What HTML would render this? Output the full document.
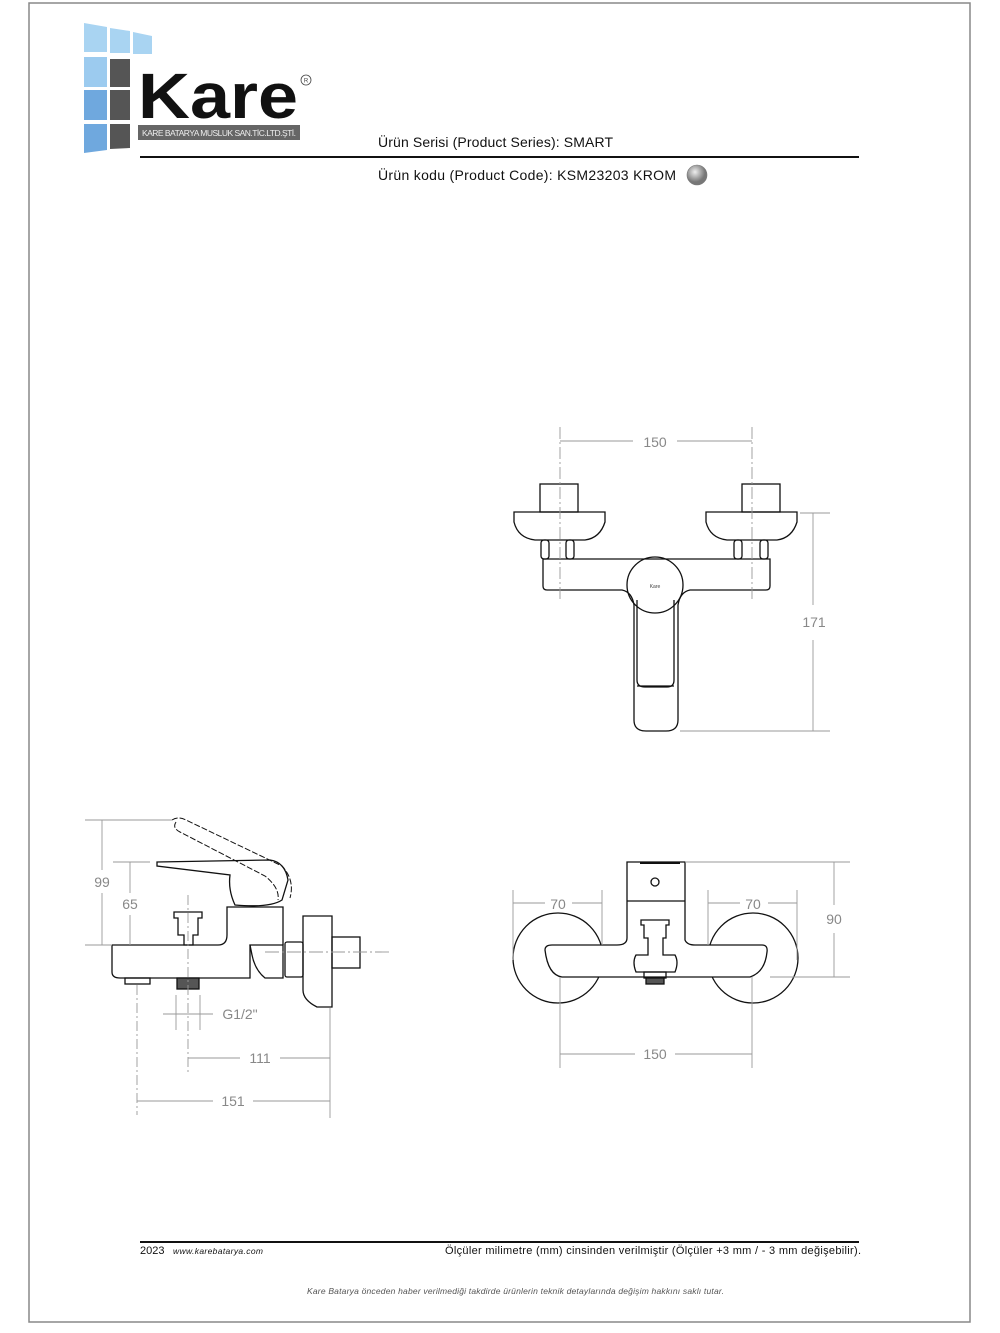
<!DOCTYPE html>
<html><head><meta charset="utf-8"><style>
html,body{margin:0;padding:0;background:#fff;}
svg{display:block;}
text{font-family:"Liberation Sans",sans-serif;}
</style></head><body>
<svg width="1000" height="1333" viewBox="0 0 1000 1333" xmlns="http://www.w3.org/2000/svg">
<rect x="29" y="3" width="941" height="1319" fill="none" stroke="#888" stroke-width="1.5"/>
<!-- logo -->
<g>
<polygon points="84,23 107,27 107,52 84,52" fill="#a9d4f2"/>
<polygon points="110,28 130,31 130,53 110,53" fill="#a9d4f2"/>
<polygon points="133,32 152,36 152,54 133,54" fill="#a9d4f2"/>
<rect x="84" y="57" width="23" height="30" fill="#9ccbef"/>
<rect x="110" y="59" width="20" height="28" fill="#555"/>
<rect x="84" y="90" width="23" height="30" fill="#6fa8de"/>
<rect x="110" y="90" width="20" height="30" fill="#555"/>
<polygon points="84,124 107,124 107,150 84,153" fill="#6fa8de"/>
<polygon points="110,124 130,124 130,148 110,149" fill="#555"/>
<text x="138" y="118" font-size="64" font-weight="bold" fill="#111" textLength="160" lengthAdjust="spacingAndGlyphs">Kare</text>
<circle cx="306" cy="80" r="5" fill="none" stroke="#444" stroke-width="0.8"/>
<text x="306" y="82.5" font-size="6" text-anchor="middle" fill="#444">R</text>
<rect x="138" y="125" width="162" height="15" fill="#666"/>
<text x="142" y="136" font-size="8.5" fill="#eee" textLength="154">KARE BATARYA MUSLUK SAN.TİC.LTD.ŞTİ.</text>
</g>
<text x="378" y="147" font-size="14" fill="#111" textLength="235">Ürün Serisi (Product Series): SMART</text>
<line x1="140" y1="157" x2="859" y2="157" stroke="#111" stroke-width="2"/>
<text x="378" y="180" font-size="14" fill="#111" textLength="298">Ürün kodu (Product Code): KSM23203  KROM</text>
<defs><radialGradient id="g" cx="40%" cy="35%"><stop offset="0" stop-color="#eee"/><stop offset="1" stop-color="#777"/></radialGradient></defs>
<circle cx="697" cy="175" r="10" fill="url(#g)" stroke="#777" stroke-width="0.6"/>

<g fill="none" stroke="#111" stroke-width="1.3">
<!-- front view top -->
<rect x="540" y="484" width="38" height="28"/>
<rect x="742" y="484" width="38" height="28"/>
<path d="M514,512 H605 V522 Q600,538 585,540 H535 Q518,538 514,522 Z"/>
<path d="M706,512 H797 V522 Q792,538 777,540 H727 Q710,538 706,522 Z"/>
<rect x="541" y="540" width="8" height="19" rx="3"/><rect x="566" y="540" width="8" height="19" rx="3"/>
<rect x="734" y="540" width="8" height="19" rx="3"/><rect x="760" y="540" width="8" height="19" rx="3"/>
<path d="M543,559 H770 V586 Q770,590 766,590 H690 Q680,592 678,605 V720 Q678,731 666,731 H646 Q634,731 634,720 V605 Q632,592 622,590 H547 Q543,590 543,586 Z"/>
<circle cx="655" cy="585" r="28"/>
<path d="M637,600 V680 Q637,687 645,687 H667 Q674,687 674,680 V600"/>
<line x1="637" y1="686" x2="674" y2="686"/>
<!-- side view -->
<path d="M112,945 H218 Q227,945 227,935 V907 H283 V945"/>
<path d="M112,945 V972 Q112,978 120,978 H250 V945"/>
<path d="M157,862 L270,860 Q285,862 288,880 L282,900 Q270,908 235,905 Q228,890 230,875 L157,866 Z"/>
<path d="M176,822 Q172,828 180,832 L265,876 Q280,888 278,900 M172,820 Q178,816 186,820 L282,866 Q295,880 290,898" stroke-width="1" stroke-dasharray="6,2"/>
<path d="M250,945 H283 V978 H265 Q255,970 252,955 Z"/>
<rect x="285" y="942" width="18" height="35" rx="2"/>
<path d="M303,916 H332 V1007 H317 Q303,1000 303,990 Z"/>
<rect x="332" y="937" width="28" height="31"/>
<rect x="125" y="978" width="25" height="6"/>
<rect x="177" y="978" width="22" height="11" fill="#555"/>
<path d="M174,912 H202 V918 H198 V935 H193 V945 H184 V935 H178 V918 H174 Z"/>
<!-- bottom right view -->
<circle cx="558" cy="958" r="45"/><circle cx="753" cy="958" r="45"/>
<path d="M627,862 H685 V940 Q687,945 695,945 H762 Q768,945 767,952 Q765,972 750,977 H562 Q548,975 545,950 Q545,945 552,945 H617 Q627,945 627,938 Z" fill="#fff"/>
<line x1="627" y1="901" x2="685" y2="901"/>
<line x1="640" y1="863" x2="680" y2="863" stroke-width="2"/>
<circle cx="655" cy="882" r="4"/>
<path d="M641,920 H669 V925 H666 V938 H663 V955 H675 Q679,962 675,972 H636 Q632,962 636,955 H648 V938 H644 V925 H641 Z" fill="#fff"/>
<rect x="644" y="972" width="22" height="6"/>
<rect x="646" y="978" width="18" height="6" fill="#555"/>
</g>

<!-- dimension lines -->
<g stroke="#999" stroke-width="0.9" fill="none">
<line x1="560" y1="427" x2="560" y2="600" stroke-dasharray="12,3,2,3"/>
<line x1="752" y1="427" x2="752" y2="600" stroke-dasharray="12,3,2,3"/>
<line x1="560" y1="441" x2="633" y2="441"/><line x1="677" y1="441" x2="752" y2="441"/>
<line x1="800" y1="513" x2="830" y2="513"/><line x1="680" y1="731" x2="830" y2="731"/>
<line x1="813" y1="513" x2="813" y2="605"/><line x1="813" y1="640" x2="813" y2="731"/>
<!-- side -->
<line x1="85" y1="820" x2="172" y2="820"/><line x1="113" y1="862" x2="150" y2="862"/><line x1="85" y1="945" x2="112" y2="945"/>
<line x1="102" y1="820" x2="102" y2="870"/><line x1="102" y1="893" x2="102" y2="945"/>
<line x1="130" y1="862" x2="130" y2="893"/><line x1="130" y1="915" x2="130" y2="945"/>
<line x1="188" y1="895" x2="188" y2="1075" stroke-dasharray="10,3,2,3"/>
<line x1="137" y1="985" x2="137" y2="1115" stroke-dasharray="10,3,2,3"/>
<line x1="176" y1="995" x2="176" y2="1030"/><line x1="200" y1="995" x2="200" y2="1030"/>
<line x1="163" y1="1014" x2="213" y2="1014"/>
<line x1="330" y1="1008" x2="330" y2="1118"/>
<line x1="188" y1="1058" x2="240" y2="1058"/><line x1="280" y1="1058" x2="330" y2="1058"/>
<line x1="137" y1="1101" x2="213" y2="1101"/><line x1="253" y1="1101" x2="330" y2="1101"/>
<line x1="265" y1="952" x2="392" y2="952" stroke-dasharray="14,3,2,3"/>
<!-- bottom right -->
<line x1="513" y1="890" x2="513" y2="960"/><line x1="602" y1="890" x2="602" y2="945"/>
<line x1="513" y1="903" x2="545" y2="903"/><line x1="572" y1="903" x2="602" y2="903"/>
<line x1="708" y1="890" x2="708" y2="945"/><line x1="797" y1="890" x2="797" y2="960"/>
<line x1="708" y1="903" x2="740" y2="903"/><line x1="768" y1="903" x2="797" y2="903"/>
<line x1="685" y1="862" x2="850" y2="862"/><line x1="770" y1="977" x2="850" y2="977"/>
<line x1="834" y1="862" x2="834" y2="905"/><line x1="834" y1="933" x2="834" y2="977"/>
<line x1="560" y1="977" x2="560" y2="1068"/><line x1="752" y1="977" x2="752" y2="1068"/>
<line x1="560" y1="1054" x2="635" y2="1054"/><line x1="675" y1="1054" x2="752" y2="1054"/>
</g>
<g font-size="14" fill="#888" text-anchor="middle">
<text x="655" y="447">150</text>
<text x="814" y="627">171</text>
<text x="102" y="887">99</text>
<text x="130" y="909">65</text>
<text x="240" y="1019">G1/2"</text>
<text x="260" y="1063">111</text>
<text x="233" y="1106">151</text>
<text x="558" y="909">70</text>
<text x="753" y="909">70</text>
<text x="834" y="924">90</text>
<text x="655" y="1059">150</text>
</g>
<text x="655" y="588" font-size="5" fill="#444" text-anchor="middle">Kare</text>

<!-- footer -->
<line x1="140" y1="1242" x2="859" y2="1242" stroke="#111" stroke-width="2"/>
<text x="140" y="1254" font-size="11" fill="#111">2023</text>
<text x="173" y="1254" font-size="8.5" font-style="italic" fill="#111" textLength="90">www.karebatarya.com</text>
<text x="445" y="1254" font-size="11" fill="#111" textLength="416">Ölçüler milimetre (mm) cinsinden verilmiştir (Ölçüler  +3 mm / - 3 mm değişebilir).</text>
<text x="307" y="1294" font-size="8.5" font-style="italic" fill="#555" textLength="417">Kare Batarya önceden haber verilmediği takdirde ürünlerin teknik detaylarında değişim hakkını saklı tutar.</text>
</svg>
</body></html>
